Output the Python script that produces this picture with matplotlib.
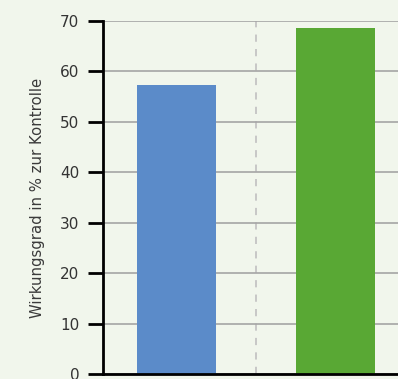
import numpy as np
import matplotlib.pyplot as plt

categories = ['A', 'B']
values = [57.3, 68.6]
bar_colors = ['#5b8bc9', '#59a834']
yticks = [0, 10, 20, 30, 40, 50, 60, 70]

bg = '#f1f6ec'

fig = plt.figure(figsize=(3.98, 3.79), dpi=100, facecolor=bg)
ax = fig.add_axes([0.2588, 0.0132, 0.7412, 0.9314], facecolor=bg)

x = np.arange(len(categories))
ax.bar(x, values, width=0.5, color=bar_colors, zorder=3)

ax.set_xlim(-0.462, 1.393)
ax.set_ylim(0, 70)
ax.set_yticks(yticks)
ax.set_xticks([])

ax.yaxis.grid(True, color='#a5a5a5', linewidth=1.2, zorder=0)
ax.axvline(0.5, color='#c4c4c4', linewidth=1.3, linestyle=(0, (4, 4)), zorder=1)

for s in ['top', 'right']:
    ax.spines[s].set_visible(False)
ax.spines['left'].set_linewidth(2)
ax.spines['bottom'].set_linewidth(2)
ax.spines['left'].set_zorder(4)
ax.spines['bottom'].set_zorder(4)

ax.tick_params(axis='y', direction='out', length=11, width=2, pad=6,
               labelsize=11, labelcolor='#333333')
ax.set_ylabel('Wirkungsgrad in % zur Kontrolle', fontsize=10.7, color='#3a3a3a', labelpad=11)

fig.savefig('out.png', dpi=100, facecolor=bg)
